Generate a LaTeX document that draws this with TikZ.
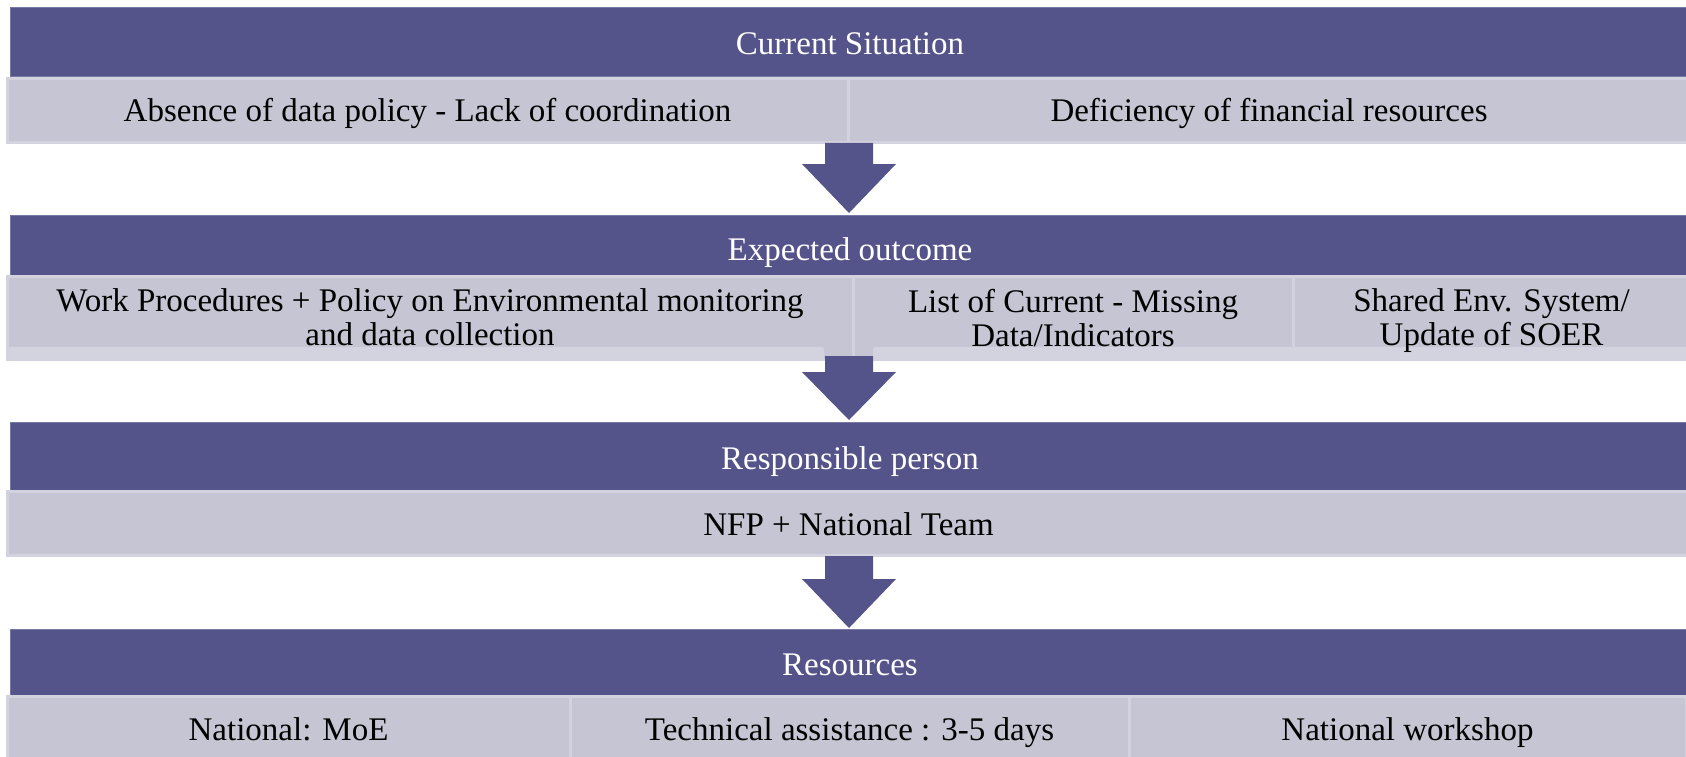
\documentclass[tikz,border=0pt]{standalone}
\usepackage{fontspec}
\setmainfont{Liberation Serif}
\usetikzlibrary{calc}
\definecolor{barcol}{RGB}{84,84,138}
\definecolor{barrim}{RGB}{120,120,165}
\definecolor{cellcol}{RGB}{197,197,211}
\definecolor{cellrim}{RGB}{211,211,223}
\tikzset{
  bar/.style={fill=barcol, draw=barrim, line width=1pt, inner sep=0pt, text=white,
    font=\fontsize{33}{34}\selectfont, anchor=center, text height=25pt, text depth=0pt},
  cellbox/.style={fill=cellcol, draw=cellrim, line width=3pt, inner sep=0pt, text=black,
    font=\fontsize{33}{34}\selectfont, align=center, anchor=center},
  oneline/.style={text height=23pt, text depth=0pt},
  plaintext/.style={inner sep=0pt, font=\fontsize{33}{34}\selectfont, align=center},
  arrowfill/.style={fill=barcol}
}
\newcommand\blockarrowpath[3]{%
  \fill[arrowfill] ($(#1)+(-24,0)$) -- ($(#2)+(-24,-#3)$) -- ($(#2)+(-47,-#3)$) -- (#2)
    -- ($(#2)+(47,-#3)$) -- ($(#2)+(24,-#3)$) -- ($(#1)+(24,0)$) -- cycle;}
\begin{document}
\begin{tikzpicture}[x=1pt,y=-1pt]
\useasboundingbox (0,0) rectangle (1686,757);
\fill[white] (0,0) rectangle (1686,757);

% group 1
\node[bar, minimum width=1680pt, minimum height=69pt] (h1) at (850,42.5) {Current Situation};
\node[cellbox, oneline, minimum width=841pt, minimum height=64pt] (c11) at (427.5,110.5) {Absence of data policy - Lack of coordination};
\node[cellbox, oneline, minimum width=842pt, minimum height=64pt] (c12) at (1269,110.5) {Deficiency of financial resources};

% group 2
\node[bar, minimum width=1680pt, minimum height=61pt] (h2) at (850,245.5) {};
\node[plaintext, text=white, text height=25pt, text depth=0pt] (h2t) at (850,248) {Expected outcome};
\node[cellbox, minimum width=846pt, minimum height=83pt] (c21) at (430,318) {};
\node[cellbox, minimum width=440pt, minimum height=83pt] (c22) at (1073,318) {};
\node[cellbox, minimum width=397pt, minimum height=83pt] (c23) at (1491.5,318) {};
\fill[cellrim, rounded corners=2pt] (7,347) rectangle (824,359);
\fill[cellrim, rounded corners=2pt] (873,347) rectangle (1690,359);
\node[plaintext] (c21t) at (430,317) {Work Procedures + Policy on Environmental monitoring\\and data collection};
\node[plaintext] (c22t) at (1073,318) {List of Current - Missing\\Data/Indicators};
\node[plaintext] (c23t) at (1491.5,321) {Shared Env. System/\\Update of SOER};

% group 3
\node[bar, minimum width=1680pt, minimum height=69pt] (h3) at (850,456.5) {Responsible person};
\node[cellbox, oneline, minimum width=1683pt, minimum height=64pt] (c31) at (848.5,523.5) {NFP + National Team};

% group 4
\node[bar, minimum width=1680pt, minimum height=67pt] (h4) at (850,662.5) {Resources};
\node[cellbox, oneline, minimum width=563pt, minimum height=66pt] (c41) at (288.5,729) {National: MoE};
\node[cellbox, oneline, minimum width=559pt, minimum height=66pt] (c42) at (849.5,729) {Technical assistance : 3-5 days};
\node[cellbox, oneline, minimum width=557pt, minimum height=66pt] (c43) at (1407.5,729) {National workshop};

% arrows
\coordinate (s1) at (849,143);
\coordinate (t1) at (849,213);
\blockarrowpath{s1}{t1}{49}
\coordinate (s2) at (849,356);
\coordinate (t2) at (849,420);
\blockarrowpath{s2}{t2}{48}
\coordinate (s3) at (849,556);
\coordinate (t3) at (849,628);
\blockarrowpath{s3}{t3}{49}
\end{tikzpicture}
\end{document}
